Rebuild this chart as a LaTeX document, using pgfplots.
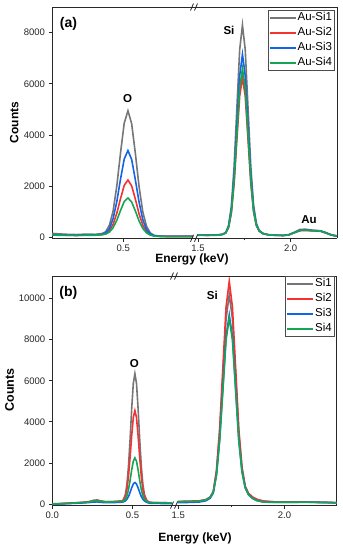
\documentclass[border=0pt]{standalone}
\usepackage{pgfplots}
\pgfplotsset{compat=1.18}
\usepackage{pgfplotstable}
\usepackage{fontspec}
\setmainfont{Liberation Sans}
\definecolor{cg}{RGB}{118,118,118}
\definecolor{cr}{RGB}{245,50,50}
\definecolor{cb}{RGB}{20,100,235}
\definecolor{cgr}{RGB}{20,165,85}
\definecolor{axc}{RGB}{40,40,40}

% panel (a), left segment
\pgfplotstableread{
x      g     r     b     gr
0.11   170   110   120   100
0.15   150   100   110   95
0.20   130   95    100   90
0.25   120   90    95    85
0.30   140   100   105   95
0.35   130   100   105   95
0.385  160   120   130   115
0.405  230   160   185   140
0.425  480   270   350   215
0.445  1030  520   740   385
0.465  2010  950   1400  675
0.485  3300  1520  2280  1060
0.505  4470  2040  3070  1410
0.525  4950  2250  3400  1550
0.545  4450  2020  3050  1390
0.565  3280  1500  2250  1040
0.585  1980  920   1380  650
0.605  1000  490   700   360
0.625  440   235   320   185
0.645  190   120   150   100
0.665  90    70    80    65
0.70   60    50    55    45
0.75   55    45    50    40
0.80   55    45    50    40
0.875  55    45    50    40
}\taL
% panel (a), right segment
\pgfplotstableread{
x      g     r     b     gr
1.495  110   100   100   95
1.55   105   95    95    90
1.60   110   100   100   95
1.63   130   120   125   120
1.650  200   180   190   185
1.665  480   390   430   405
1.680  1230  950   1070  1000
1.695  2780  2110  2400  2220
1.710  5080  3830  4380  4050
1.725  7330  5520  6320  5830
1.740  8300  6250  7150  6600
1.755  7330  5520  6320  5830
1.770  5080  3830  4380  4050
1.785  2790  2120  2410  2230
1.800  1280  1000  1120  1050
1.815  560   470   510   480
1.830  290   260   270   260
1.85   170   160   160   160
1.88   120   110   110   110
1.92   100   90    95    90
1.96   90    85    85    85
1.99   120   110   110   110
2.02   210   190   200   195
2.05   320   270   290   280
2.08   330   280   300   290
2.11   300   270   280   275
2.14   280   260   270   265
2.16   270   250   265   260
2.19   200   180   190   185
2.22   110   100   105   100
2.25   70    60    65    60
}\taR
% panel (b), left segment
\pgfplotstableread{
x      g     r     b     gr
0.00   0     10    -10   0
0.05   20    25    10    15
0.10   40    45    25    35
0.15   60    65    40    55
0.20   90    90    60    80
0.23   120   115   75    100
0.26   190   165   100   150
0.28   200   175   105   160
0.30   160   140   85    130
0.33   120   110   70    100
0.37   120   115   70    105
0.40   130   125   80    115
0.425  150   140   90    125
0.44   170   150   100   125
0.455  450   350   150   220
0.465  945   700   230   390
0.475  1840  1340  365   700
0.485  3145  2270  565   1150
0.495  4640  3330  790   1660
0.505  5870  4210  980   2085
0.515  6350  4550  1050  2250
0.525  5870  4210  980   2085
0.535  4640  3330  790   1660
0.545  3145  2270  565   1150
0.555  1840  1340  365   700
0.565  945   700   230   390
0.575  450   350   150   220
0.59   170   150   80    125
0.605  90    85    45    75
0.63   70    70    35    65
0.68   65    65    30    60
0.746  60    60    30    55
}\tbL
% panel (b), right segment
\pgfplotstableread{
x      g      r      b      gr
1.497  130    120    70     110
1.55   140    130    80     120
1.60   160    150    100    140
1.63   220    210    160    200
1.65   340    330    280    320
1.665  600    620    540    580
1.68   1560   1650   1430   1410
1.695  3480   3690   3150   3100
1.71   6230   6630   5620   5530
1.725  9010   9580   8130   7990
1.74   10200  10850  9200   9050
1.755  9010   9580   8130   7990
1.77   6230   6630   5620   5530
1.785  3430   3640   3100   3060
1.80   1710   1800   1580   1560
1.815  840    870    800    790
1.83   520    530    470    460
1.85   330    340    280    270
1.87   220    230    170    170
1.90   140    150    100    100
1.95   110    110    80     90
2.00   100    100    80     90
2.05   100    100    80     90
2.10   100    100    85     95
2.15   90     90     80     85
2.20   80     80     75     75
2.245  70     70     60     60
}\tbR

\pgfplotsset{
  seg/.style={
    scale only axis, anchor=north west,
    tick align=outside, major tick length=3.5pt, minor tick length=2pt,
    axis x line*=bottom,
    axis line style={axc, line width=0.8pt},
    every tick/.style={axc, line width=0.8pt},
    scaled y ticks=false,
    /pgf/number format/assume math mode=true,
    /pgf/number format/1000 sep={},
    tick label style={font=\fontsize{9.5}{10}\selectfont, text=black!85},
    clip=true,
  },
  lft/.style={seg, axis y line*=left},
  rgt/.style={seg, axis y line*=right, ytick=\empty},
}

\begin{document}
\begin{tikzpicture}[x=1pt,y=1pt]
\useasboundingbox (0,0) rectangle (343,-550);

% ---------- panel (a) ----------
\begin{axis}[lft, at={(52pt,-7pt)}, width=143pt, height=231.3pt,
  xmin=0.1167, xmax=0.8855, ymin=-25, ymax=9000,
  xtick={0.5}, xticklabels={0.5},
  ytick={0,2000,4000,6000,8000}]
  \addplot[cg, line width=1.6pt, no markers] table[x=x,y=g]{\taL};
  \addplot[cr, line width=1.6pt, no markers] table[x=x,y=r]{\taL};
  \addplot[cb, line width=1.6pt, no markers] table[x=x,y=b]{\taL};
  \addplot[cgr, line width=1.6pt, no markers] table[x=x,y=gr]{\taL};
  \draw[axc, line width=0.8pt] (rel axis cs:0,1) -- (rel axis cs:1,1);
\end{axis}
\begin{axis}[rgt, at={(195pt,-7pt)}, width=142pt, height=231.3pt,
  xmin=1.484, xmax=2.25, ymin=-25, ymax=9000,
  xtick={1.5,2.0}, xticklabels={1.5,2.0}, minor xtick={1.75},
  legend style={at={(0.981,0.987)}, anchor=north east, draw=black!70,
      font=\fontsize{11.5}{12}\selectfont, inner xsep=1pt, inner ysep=1pt,
      row sep=2pt, nodes={inner sep=1pt, text height=8.5pt, text depth=2.5pt},
      cells={anchor=west}},
  legend image code/.code={\draw[#1, line width=1.6pt] (0pt,0pt) -- (26pt,0pt);}]
  \addplot[cg, line width=1.6pt, no markers] table[x=x,y=g]{\taR};
  \addplot[cr, line width=1.6pt, no markers] table[x=x,y=r]{\taR};
  \addplot[cb, line width=1.6pt, no markers] table[x=x,y=b]{\taR};
  \addplot[cgr, line width=1.6pt, no markers] table[x=x,y=gr]{\taR};
  \legend{Au-Si1,Au-Si2,Au-Si3,Au-Si4}
  \draw[axc, line width=0.8pt] (rel axis cs:0,1) -- (rel axis cs:1,1);
\end{axis}
\draw[axc, line width=0.8pt] (190.5,-10.5) -- (193.5,-3.5) (194.5,-10.5) -- (197.5,-3.5);
\draw[axc, line width=0.8pt] (190.5,-241.8) -- (193.5,-234.8) (194.5,-241.8) -- (197.5,-234.8);
\node[font=\fontsize{14}{15}\bfseries] at (68.5,-23.5) {(a)};
\node[font=\fontsize{11.5}{12}\bfseries] at (127.7,-98.7) {O};
\node[font=\fontsize{11.5}{12}\bfseries] at (229,-30.7) {Si};
\node[font=\fontsize{11.5}{12}\bfseries] at (309,-220) {Au};
\node[font=\fontsize{12}{13}\bfseries] at (192,-259.3) {Energy (keV)};
\node[font=\fontsize{12}{13}\bfseries, rotate=90] at (14.3,-122.5) {Counts};

% ---------- panel (b) ----------
\begin{axis}[lft, at={(52.3pt,-276pt)}, width=122.7pt, height=229.1pt,
  xmin=0, xmax=0.765, ymin=-50, ymax=11100,
  xtick={0,0.5}, xticklabels={0.0,0.5},
  ytick={0,2000,4000,6000,8000,10000}]
  \addplot[cg, line width=1.6pt, no markers] table[x=x,y=g]{\tbL};
  \addplot[cr, line width=1.6pt, no markers] table[x=x,y=r]{\tbL};
  \addplot[cb, line width=1.6pt, no markers] table[x=x,y=b]{\tbL};
  \addplot[cgr, line width=1.6pt, no markers] table[x=x,y=gr]{\tbL};
  \draw[axc, line width=0.8pt] (rel axis cs:0,1) -- (rel axis cs:1,1);
\end{axis}
\begin{axis}[rgt, at={(175pt,-276pt)}, width=161.7pt, height=229.1pt,
  xmin=1.485, xmax=2.245, ymin=-50, ymax=11100,
  xtick={1.5,2.0}, xticklabels={1.5,2.0}, minor xtick={1.75},
  legend style={at={(0.983,1.0)}, anchor=north east, draw=black!70,
      font=\fontsize{11.5}{12}\selectfont, inner xsep=1pt, inner ysep=1pt,
      row sep=2pt, nodes={inner sep=1pt, text height=8.5pt, text depth=2.5pt},
      cells={anchor=west}},
  legend image code/.code={\draw[#1, line width=1.6pt] (0pt,0pt) -- (26pt,0pt);}]
  \addplot[cg, line width=1.6pt, no markers] table[x=x,y=g]{\tbR};
  \addplot[cr, line width=1.6pt, no markers] table[x=x,y=r]{\tbR};
  \addplot[cb, line width=1.6pt, no markers] table[x=x,y=b]{\tbR};
  \addplot[cgr, line width=1.6pt, no markers] table[x=x,y=gr]{\tbR};
  \legend{Si1,Si2,Si3,Si4}
  \draw[axc, line width=0.8pt] (rel axis cs:0,1) -- (rel axis cs:1,1);
\end{axis}
\draw[axc, line width=0.8pt] (170.5,-279.5) -- (173.5,-272.5) (174.5,-279.5) -- (177.5,-272.5);
\draw[axc, line width=0.8pt] (170.5,-508.6) -- (173.5,-501.6) (174.5,-508.6) -- (177.5,-501.6);
\node[font=\fontsize{14}{15}\bfseries] at (68.3,-293) {(b)};
\node[font=\fontsize{11.5}{12}\bfseries] at (134.3,-363.3) {O};
\node[font=\fontsize{11.5}{12}\bfseries] at (212.3,-295.7) {Si};
\node[font=\fontsize{12}{13}\bfseries] at (195,-538) {Energy (keV)};
\node[font=\fontsize{12.5}{13}\bfseries, rotate=90] at (9.5,-390) {Counts};
\end{tikzpicture}
\end{document}
